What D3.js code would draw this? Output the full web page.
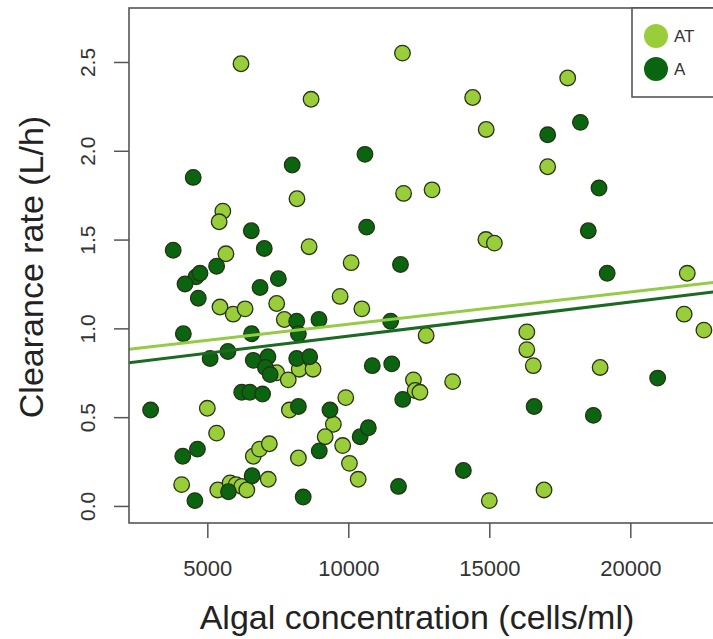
<!DOCTYPE html>
<html>
<head>
<meta charset="utf-8">
<script src="https://cdn.jsdelivr.net/npm/d3@7"></script>
<style>
  html, body { margin: 0; padding: 0; background: #fff; overflow: hidden; }
  svg { display: block; font-family: "Liberation Sans", Arial, Helvetica, sans-serif; }
</style>
</head>
<body>
<svg id="chart" width="713" height="639"></svg>
<script>
// ---- data ----
const seriesNames = ["AT", "A"];
const atX = [6195, 11920, 8680, 14410, 17780, 14890, 17070, 11960, 12970, 8180,
             5550, 5420, 5660, 8610, 10100, 14880, 15180, 5450, 5920, 6340,
             7460, 9710, 10480, 7730, 12760, 7460, 8260, 8750, 7870, 12310,
             12370, 12540, 13700, 16330, 16330, 16560, 18930, 22020, 21910, 22610,
             5000, 7910, 9910, 9470, 9180, 9800, 5330, 6630, 6850, 7200,
             8230, 10040, 10350, 4090, 5370, 5810, 6020, 6220, 6400, 7160,
             15000, 16940];
const atY = [2.49, 2.55, 2.29, 2.30, 2.41, 2.12, 1.91, 1.76, 1.78, 1.73,
             1.66, 1.60, 1.42, 1.46, 1.37, 1.50, 1.48, 1.12, 1.08, 1.11,
             1.14, 1.18, 1.11, 1.05, 0.96, 0.75, 0.77, 0.77, 0.71, 0.71,
             0.65, 0.64, 0.70, 0.98, 0.88, 0.79, 0.78, 1.31, 1.08, 0.99,
             0.55, 0.54, 0.61, 0.46, 0.39, 0.34, 0.41, 0.28, 0.32, 0.35,
             0.27, 0.24, 0.15, 0.12, 0.09, 0.13, 0.12, 0.11, 0.09, 0.15,
             0.03, 0.09];
const aX = [8010, 10590, 4500, 18230, 17070, 18890, 18510, 6560, 10650, 3790,
            7020, 11850, 5330, 4600, 4740, 4210, 4680, 6870, 7520, 19180,
            8170, 8230, 8960, 11500, 4150, 6570, 5100, 5730, 6630, 7150,
            7060, 7230, 8170, 8630, 10850, 11540, 11930, 2990, 6220, 6510,
            6960, 8230, 9350, 10420, 10710, 8970, 4130, 4650, 4560, 5750,
            6590, 8400, 11780, 16590, 18690, 14080, 20970];
const aY = [1.92, 1.98, 1.85, 2.16, 2.09, 1.79, 1.55, 1.55, 1.57, 1.44,
            1.45, 1.36, 1.35, 1.29, 1.31, 1.25, 1.17, 1.23, 1.28, 1.31,
            1.04, 0.97, 1.05, 1.04, 0.97, 0.97, 0.83, 0.87, 0.82, 0.84,
            0.78, 0.74, 0.83, 0.84, 0.79, 0.80, 0.60, 0.54, 0.64, 0.64,
            0.63, 0.56, 0.54, 0.39, 0.44, 0.31, 0.28, 0.32, 0.03, 0.08,
            0.17, 0.05, 0.11, 0.56, 0.51, 0.20, 0.72];
// fitted regression lines (AT, A)
const fitIntercept = [0.842, 0.764];
const fitSlope = [1.814e-5, 1.92e-5];
const xTicks = [5000, 10000, 15000, 20000];
const yTicks = [0, 0.5, 1.0, 1.5, 2.0, 2.5];
const xLabel = "Algal concentration (cells/ml)";
const yLabel = "Clearance rate (L/h)";

// ---- styles ----
const fillColors = ["#9acd3a", "#0a6410"];
const lineColors = ["#94cc45", "#1c6a22"];
const frameColor = "#555";

// ---- layout ----
const plot = { left: 129, top: 8, right: 740, bottom: 523 };
const svg = d3.select("#chart");

const x = d3.scaleLinear().domain([2223, 23890]).range([plot.left, plot.right]);
const y = d3.scaleLinear().domain([-0.096, 2.804]).range([plot.bottom, plot.top]);

svg.append("defs").append("clipPath").attr("id", "clip")
  .append("rect")
  .attr("x", plot.left).attr("y", plot.top)
  .attr("width", plot.right - plot.left).attr("height", plot.bottom - plot.top);

const g = svg.append("g").attr("clip-path", "url(#clip)");

// points: AT first, A on top
const groups = [
  { name: seriesNames[0], xs: atX, ys: atY, i: 0 },
  { name: seriesNames[1], xs: aX, ys: aY, i: 1 }
];
groups.forEach(s => {
  g.append("g").selectAll("circle")
    .data(s.xs.map((v, k) => [v, s.ys[k]]))
    .join("circle")
    .attr("cx", d => x(d[0]))
    .attr("cy", d => y(d[1]))
    .attr("r", 7.8)
    .attr("fill", fillColors[s.i])
    .attr("stroke", "#243414")
    .attr("stroke-width", 1.3);
});

// regression lines
const xd = x.domain();
[0, 1].forEach(i => {
  g.append("line")
    .attr("x1", x(xd[0])).attr("y1", y(fitIntercept[i] + fitSlope[i] * xd[0]))
    .attr("x2", x(xd[1])).attr("y2", y(fitIntercept[i] + fitSlope[i] * xd[1]))
    .attr("stroke", lineColors[i])
    .attr("stroke-width", 3);
});

// frame
svg.append("rect")
  .attr("x", plot.left).attr("y", plot.top)
  .attr("width", plot.right - plot.left).attr("height", plot.bottom - plot.top)
  .attr("fill", "none").attr("stroke", frameColor).attr("stroke-width", 1.6);

// x axis
const xAxis = d3.axisBottom(x).tickValues(xTicks).tickSize(15).tickPadding(22)
  .tickFormat(d3.format("d"));
const gx = svg.append("g").attr("transform", `translate(0,${plot.bottom})`).call(xAxis);
gx.select(".domain").remove();
gx.selectAll(".tick line").attr("stroke", frameColor).attr("stroke-width", 1.5);
gx.selectAll(".tick text").attr("font-size", 22).attr("fill", "#333")
  .attr("font-family", "'Liberation Sans', Arial, sans-serif");

// y axis
const yAxis = d3.axisLeft(y).tickValues(yTicks).tickSize(15).tickFormat(d3.format(".1f"));
const gy = svg.append("g").attr("transform", `translate(${plot.left},0)`).call(yAxis);
gy.select(".domain").remove();
gy.selectAll(".tick line").attr("stroke", frameColor).attr("stroke-width", 1.5);
gy.selectAll(".tick text")
  .attr("font-size", 21).attr("fill", "#333")
  .attr("font-family", "'Liberation Sans', Arial, sans-serif")
  .attr("text-anchor", "middle")
  .attr("x", null).attr("dy", null)
  .attr("transform", "translate(-34,0) rotate(-90)");

// axis titles
svg.append("text")
  .attr("x", 417).attr("y", 629)
  .attr("text-anchor", "middle")
  .attr("font-size", 34).attr("fill", "#222")
  .text(xLabel);
svg.append("text")
  .attr("transform", "translate(43,267) rotate(-90)")
  .attr("text-anchor", "middle")
  .attr("font-size", 34).attr("fill", "#222")
  .text(yLabel);

// legend
const lg = svg.append("g");
lg.append("rect")
  .attr("x", 632).attr("y", plot.top)
  .attr("width", 120).attr("height", 97 - plot.top)
  .attr("fill", "#fff").attr("stroke", frameColor).attr("stroke-width", 1.6);
seriesNames.forEach((name, i) => {
  lg.append("circle")
    .attr("cx", 656).attr("cy", 36 + i * 33).attr("r", 12)
    .attr("fill", fillColors[i]);
  lg.append("text")
    .attr("x", 674).attr("y", 36 + i * 33 + 6)
    .attr("font-size", 17).attr("fill", "#333")
    .text(name);
});
</script>
</body>
</html>
